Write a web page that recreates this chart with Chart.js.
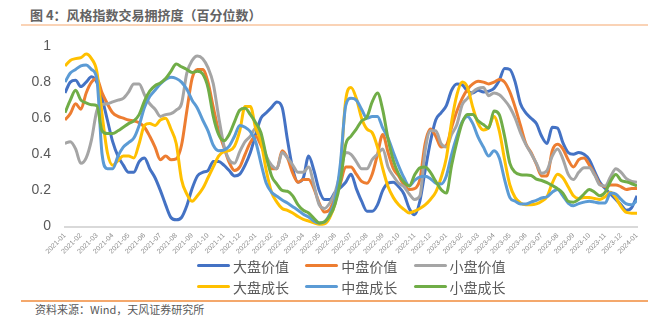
<!DOCTYPE html>
<html>
<head>
<meta charset="utf-8">
<script src="https://cdn.jsdelivr.net/npm/chart.js@4.4.1/dist/chart.umd.min.js"></script>
<style>
  html, body { margin: 0; padding: 0; background: #ffffff; }
  #wrap { position: relative; width: 663px; height: 326px; overflow: hidden;
          font-family: "Noto Sans CJK SC", "Noto Sans", sans-serif; }
  #title { position: absolute; left: 30px; top: 5px; font-size: 13px; font-weight: bold;
           color: #636363; white-space: nowrap; }
  #titleRule { position: absolute; left: 21px; top: 24px; width: 627px; height: 2px; background: #FAD3B6; }
  #chartBox { position: absolute; left: 0; top: 0; }
  #legend { position: absolute; left: 197px; top: 255px; display: grid;
            grid-template-columns: repeat(3, 108.3px); grid-auto-rows: 21px; }
  .item { display: flex; align-items: center; font-size: 14px; color: #595959; white-space: nowrap; }
  .swatch { display: inline-block; width: 33px; height: 3px; border-radius: 1.5px; margin-right: 3px; }
  #footRule { position: absolute; left: 21px; top: 300px; width: 627px; height: 1.5px; background: #F4A86C; }
  #source { position: absolute; left: 35px; top: 301px; font-size: 11px; color: #595959; white-space: nowrap; }
</style>
</head>
<body>
<div id="wrap">
  <div id="title">图 4：风格指数交易拥挤度（百分位数）</div>
  <div id="titleRule"></div>
  <canvas id="chartBox" width="663" height="262"></canvas>
  <div id="legend"></div>
  <div id="footRule"></div>
  <div id="source">资料来源：Wind，天风证券研究所</div>
</div>
<script>
// Month tick labels, 2021-01 .. 2024-01
const monthLabels = [
  '2021-01','2021-02','2021-03','2021-04','2021-05','2021-06','2021-07','2021-08','2021-09','2021-10','2021-11','2021-12',
  '2022-01','2022-02','2022-03','2022-04','2022-05','2022-06','2022-07','2022-08','2022-09','2022-10','2022-11','2022-12',
  '2023-01','2023-02','2023-03','2023-04','2023-05','2023-06','2023-07','2023-08','2023-09','2023-10','2023-11','2023-12',
  '2024-01'
];

// Series names
const seriesNames = ['大盘价值', '中盘价值', '小盘价值', '大盘成长', '中盘成长', '小盘成长'];

// Crowding percentile, three samples per month (early / mid / late)
const largeValue = [
  .74,.80,.81, .775,.80,.83, .80,.71,.59, .47,.39,.34, .30,.30,.36, .38,.32,.27,
  .20,.12,.05, .037,.05,.115, .21,.28,.30, .31,.36,.36, .34,.31,.28, .29,.34,.41,
  .51,.60,.63, .66,.69,.66, .48,.32,.245, .27,.39,.31, .20,.15,.15, .19,.215,.245,
  .29,.21,.14, .085,.085,.12, .20,.24,.245, .22,.18,.10, .065,.14,.31, .47,.59,.63,
  .67,.755,.79, .785,.75,.74, .755,.745,.75, .765,.81,.875, .87,.80,.68, .63,.60,.57,
  .50,.46,.55, .545,.465,.41, .40,.41,.40, .37,.305,.245, .21,.18,.15, .12,.09,.105,
  .17
];
const midValue = [
  .59,.625,.68, .65,.74,.80, .82,.74,.68, .63,.61,.60, .59,.585,.575, .55,.50,.44,
  .37,.39,.37, .375,.45,.64, .82,.87,.87, .80,.66,.53, .44,.355,.31, .33,.40,.465,
  .50,.45,.38, .32,.32,.42, .38,.295,.245, .26,.26,.21, .13,.08,.095, .16,.24,.33,
  .33,.29,.25, .24,.29,.40, .51,.41,.32, .28,.23,.205, .21,.26,.46, .54,.50,.44,
  .45,.55,.64, .71,.76,.79, .805,.80,.79, .80,.815,.80, .745,.66,.56, .46,.41,.345,
  .28,.28,.42, .455,.43,.37, .33,.37,.38, .34,.29,.235, .22,.23,.23, .22,.205,.21,
  .21
];
const smallValue = [
  .46,.47,.43, .35,.38,.48, .64,.675,.68, .69,.70,.71, .745,.79,.79, .73,.68,.65,
  .61,.62,.625, .645,.68,.85, .92,.945,.93, .88,.79,.61, .45,.37,.35, .415,.47,.50,
  .545,.49,.39, .34,.32,.41, .38,.34,.30, .30,.33,.23, .12,.10,.13, .19,.30,.41,
  .40,.36,.32, .32,.37,.40, .43,.33,.28, .24,.22,.18, .15,.17,.42, .53,.53,.46,
  .44,.51,.565, .675,.71,.745, .765,.77,.725, .74,.73,.70, .66,.60,.52, .455,.405,.35,
  .295,.31,.39, .43,.375,.29, .26,.30,.325, .325,.285,.23, .225,.275,.32, .30,.265,.25,
  .245
];
const largeGrowth = [
  .89,.92,.93, .935,.955,.93, .86,.62,.41, .34,.365,.39, .39,.38,.46, .56,.57,.56,
  .59,.60,.54, .46,.26,.18, .14,.17,.21, .27,.33,.39, .415,.42,.445, .53,.665,.665,
  .545,.47,.31, .19,.135,.10, .09,.075,.055, .04,.03,.02, .012,.015,.05, .13,.32,.70,
  .77,.71,.60, .54,.52,.44, .32,.22,.16, .12,.095,.075, .085,.10,.12, .15,.19,.27,
  .38,.58,.73, .80,.77,.66, .57,.535,.55, .61,.53,.37, .23,.16,.13, .12,.12,.125,
  .14,.165,.24, .29,.27,.22, .17,.155,.16, .16,.155,.15, .165,.19,.16, .11,.078,.074,
  .074
];
const midGrowth = [
  .80,.85,.87, .89,.895,.87, .82,.40,.32, .32,.39,.44, .465,.49,.56, .66,.72,.755,
  .79,.815,.827, .82,.80,.76, .70,.655,.59, .53,.45,.42, .423,.445,.50, .56,.55,.525,
  .47,.35,.24, .19,.168,.147, .13,.11,.09, .068,.053,.03, .02,.025,.07, .15,.35,.67,
  .71,.70,.65, .60,.61,.61, .545,.49,.41, .335,.27,.225, .255,.275,.278, .265,.24,.235,
  .28,.40,.50, .58,.61,.57, .495,.44,.39, .42,.38,.26, .16,.14,.125, .125,.135,.145,
  .158,.165,.19, .205,.17,.13, .115,.127,.135, .14,.135,.13, .13,.185,.18, .15,.125,.12,
  .145
];
const smallGrowth = [
  .63,.70,.755, .70,.685,.675, .67,.53,.515, .515,.53,.55, .57,.585,.62, .695,.75,.78,
  .795,.82,.86, .90,.885,.87, .853,.86,.845, .77,.61,.51, .475,.51,.58, .645,.655,.62,
  .575,.52,.39, .28,.235,.20, .195,.17,.12, .09,.075,.045, .02,.027,.06, .125,.25,.455,
  .50,.54,.585, .605,.69,.74, .645,.485,.365, .29,.245,.225, .285,.325,.33, .30,.25,.205,
  .185,.34,.47, .575,.62,.62, .585,.565,.545, .64,.62,.50, .35,.30,.287, .285,.283,.262,
  .255,.243,.227, .21,.185,.14, .135,.15,.18, .205,.19,.17, .19,.25,.288, .255,.247,.237,
  .225
];

const seriesValues = [largeValue, midValue, smallValue, largeGrowth, midGrowth, smallGrowth];
const seriesColors = ['#4472C4', '#ED7D31', '#A5A5A5', '#FFC000', '#5B9BD5', '#70AD47'];
const SAMPLES_PER_MONTH = 3;

const datasets = seriesValues.map((vals, i) => ({
  label: seriesNames[i],
  data: vals.map((v, k) => ({ x: k / SAMPLES_PER_MONTH, y: v })),
  borderColor: seriesColors[i],
  backgroundColor: seriesColors[i],
  borderWidth: 3,
  pointRadius: 0,
  fill: false,
  cubicInterpolationMode: 'monotone',
  order: seriesValues.length - 1 - i   // later series painted on top
}));

const chart = new Chart(document.getElementById('chartBox'), {
  type: 'line',
  data: { datasets },
  options: {
    responsive: false,
    animation: false,
    layout: { padding: { top: 46, right: 26, left: 0, bottom: 0 } },
    plugins: { legend: { display: false }, tooltip: { enabled: false } },
    scales: {
      x: {
        type: 'linear', min: 0, max: monthLabels.length - 1,
        grid: { display: false, drawTicks: false },
        border: { display: true, color: '#D9D9D9', width: 2 },
        ticks: {
          stepSize: 1, autoSkip: false, maxRotation: 45, minRotation: 45, padding: 5,
          font: { family: 'Liberation Sans', size: 7 }, color: '#8C8C8C',
          callback: (v) => monthLabels[v] !== undefined ? monthLabels[v] : ''
        },
        afterFit: (s) => { s.height = 35.5; }
      },
      y: {
        min: 0, max: 1,
        grid: { display: false, drawTicks: false },
        border: { display: false },
        ticks: {
          stepSize: 0.2, padding: 14, font: { family: 'Liberation Sans', size: 14 }, color: '#595959',
          callback: (v) => String(parseFloat(Number(v).toFixed(1)))
        },
        afterFit: (s) => { s.width = 65; }
      }
    }
  }
});

// Legend: two rows of three, built from the chart's datasets
const legendEl = document.getElementById('legend');
chart.data.datasets.forEach((ds) => {
  const item = document.createElement('div');
  item.className = 'item';
  const sw = document.createElement('span');
  sw.className = 'swatch';
  sw.style.background = ds.borderColor;
  const txt = document.createElement('span');
  txt.textContent = ds.label;
  item.appendChild(sw);
  item.appendChild(txt);
  legendEl.appendChild(item);
});
</script>
</body>
</html>
